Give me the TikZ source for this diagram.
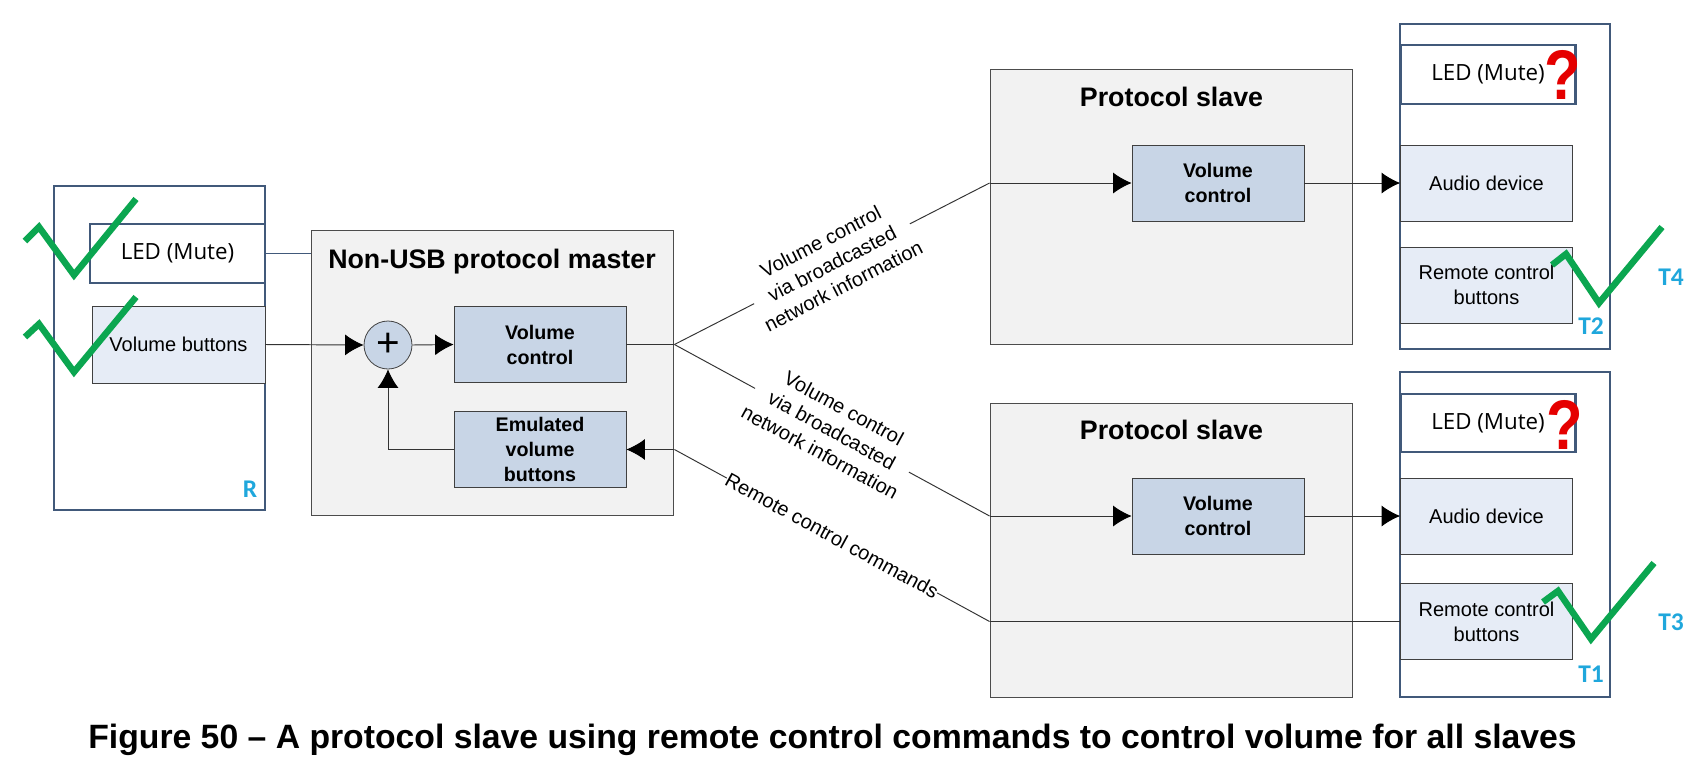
\documentclass[tikz,border=0pt]{standalone}
\usepackage{fontspec}
\setmainfont{Liberation Sans}
\newfontfamily\tagfont{Carlito}
\newfontfamily\ledfont{Open Sans}
\usepackage{xcolor}
\usepackage{tikz}
\usetikzlibrary{arrows.meta, positioning}
\definecolor{framecol}{HTML}{41597A}
\definecolor{unitcol}{HTML}{E6ECF6}
\definecolor{blockcol}{HTML}{C8D5E6}
\definecolor{panelcol}{HTML}{F2F2F2}
\definecolor{tagcol}{HTML}{1FA7DC}
\definecolor{checkcol}{HTML}{0BA650}

\begin{document}
\begin{tikzpicture}[
  x=0.02cm,
  y=-0.02cm,
  font=\fontsize{11.4}{14.2}\selectfont,
  devicebox/.style={
    draw=framecol,
    fill=white,
    line width=1.3pt,
    minimum width=4.2cm,
    minimum height=6.5cm
  },
  ledbox/.style={
    draw=framecol,
    fill=white,
    line width=1.3pt,
    minimum width=3.5cm,
    minimum height=1.17cm,
    text height=0.93em,
    font=\ledfont\fontsize{12.7}{14}\selectfont
  },
  unitbox/.style={
    draw=black!75,
    fill=unitcol,
    line width=0.45pt,
    align=center,
    minimum width=3.44cm,
    minimum height=1.52cm
  },
  panelbox/.style={
    draw=black!70,
    fill=panelcol,
    line width=0.55pt,
    minimum width=7.26cm
  },
  blockbox/.style={
    draw=black!75,
    fill=blockcol,
    line width=0.45pt,
    align=center,
    minimum width=3.44cm,
    minimum height=1.52cm,
    font=\bfseries\fontsize{11.2}{14.2}\selectfont
  },
  titletext/.style={font=\bfseries\fontsize{15.25}{18}\selectfont},
  tagtext/.style={font=\tagfont\bfseries\fontsize{14.5}{16}\selectfont, text=tagcol},
  netlabel/.style={
    sloped,
    midway,
    fill=white,
    align=center,
    inner sep=0pt,
    font=\fontsize{11.4}{14.2}\selectfont
  },
  wire/.style={draw=black!80, line width=0.55pt},
  arrow/.style={
    draw=black!80,
    -{Latex[length=0.37cm,width=0.42cm,black]},
    line width=0.55pt
  },
  checkmark/.style={draw=checkcol, line width=3.7pt, line join=miter},
  querymark/.style={
    text=red!90!black,
    inner sep=0pt,
    font=\bfseries\fontsize{40}{40}\selectfont,
    xscale=0.85,
    transform shape
  }
]
\useasboundingbox (0,0) rectangle (1708,782);

% Device on the left
\node[devicebox, minimum width=4.22cm, minimum height=6.48cm] (devr) at (159.5,348) {};
\node[ledbox] (ledr) at (177.5,253.5) {LED (Mute)};
\node[unitbox, minimum width=3.46cm, minimum height=1.54cm] (buttons) at (178.5,344.5) {Volume buttons};
\node[tagtext] (tagr) at (250,489) {R};

% Master
\node[panelbox, minimum width=7.25cm, minimum height=5.72cm] (master) at (492.75,373) {};
\node[titletext] (mastertitle) at (492,262) {Non-USB protocol master};
\node[circle, draw=black!75, fill=blockcol, line width=0.45pt, minimum size=0.96cm, inner sep=0pt,
  font=\fontsize{23}{23}\selectfont] (sum) at (388,345) {+};
\node[blockbox] (mastervol) at (540,344.5) {Volume\\control};
\node[blockbox, minimum height=1.5cm] (emulated) at (540,449.5) {Emulated\\volume\\buttons};

% Upper slave
\node[panelbox, minimum height=5.52cm] (slavetop) at (1171.5,207) {};
\node[titletext] (slavetoptitle) at (1171.5,97) {Protocol slave};
\node[blockbox] (voltop) at (1218,183) {Volume\\control};

% Lower slave
\node[panelbox, minimum height=5.88cm] (slavelow) at (1171.5,550) {};
\node[titletext] (slavelowtitle) at (1171.5,430) {Protocol slave};
\node[blockbox] (vollow) at (1218,516) {Volume\\control};

% Devices on the right
\node[devicebox] (devtop) at (1505,186.5) {};
\node[ledbox] (ledtop) at (1488,74.5) {LED (Mute)};
\node[unitbox] (audiotop) at (1486.5,183) {Audio device};
\node[unitbox] (remotetop) at (1486.5,285) {Remote control\\buttons};
\node[devicebox] (devlow) at (1505,534.5) {};
\node[ledbox] (ledlow) at (1488,423) {LED (Mute)};
\node[unitbox] (audiolow) at (1486.5,516) {Audio device};
\node[unitbox] (remotelow) at (1486.5,621.5) {Remote control\\buttons};

% Tags
\node[tagtext] (tagtwo) at (1591,326) {T2};
\node[tagtext] (tagfour) at (1671,277) {T4};
\node[tagtext] (tagone) at (1591,674) {T1};
\node[tagtext] (tagthree) at (1671,622) {T3};

% Junctions on the panel edges
\coordinate (split) at (mastervol.east -| master.east);
\coordinate (cmdout) at (emulated.east -| master.east);
\coordinate (topin) at (voltop.west -| slavetop.west);
\coordinate (lowin) at (vollow.west -| slavelow.west);
\coordinate (cmdin) at (remotelow.west -| slavelow.west);

% Connectors
\draw[draw=framecol, line width=0.5pt] (ledr.east) -- (ledr.east -| master.west);
\draw[arrow] (buttons.east) -- (sum.west);
\draw[arrow] (sum.east) -- (mastervol.west);
\draw[wire] (mastervol.east) -- (split);
\draw[arrow] (emulated.west) -| (sum.south);
\draw[arrow] (cmdout) -- (emulated.east);
\draw[wire] (split) -- node[netlabel] {Volume control\\via broadcasted\\network information} (topin);
\draw[wire] (split) -- node[netlabel] {Volume control\\via broadcasted\\network information} (lowin);
\draw[wire] (cmdout) -- node[netlabel] {Remote control commands} (cmdin);
\draw[wire] (cmdin) -- (remotelow.west);
\draw[arrow] (topin) -- (voltop.west);
\draw[arrow] (lowin) -- (vollow.west);
\draw[arrow] (voltop.east) -- (audiotop.west);
\draw[arrow] (vollow.east) -- (audiolow.west);

% Marks
\draw[checkmark] (25,241) -- (39,227) -- (74,275) -- (136,199);
\draw[checkmark] (25,337) -- (39,324) -- (74,372) -- (136,297);
\draw[checkmark] (1552,265) -- (1566,254) -- (1599,303) -- (1662,227);
\draw[checkmark] (1543,602) -- (1558,591) -- (1591,639) -- (1654,563);
\node[querymark] (querytop) at (1563,75) {?};
\node[querymark] (querylow) at (1565,425) {?};

% Caption
\node[font=\bfseries\fontsize{19.2}{22}\selectfont] (caption) at (832.5,740)
{Figure 50 – A protocol slave using remote control commands to control volume for all slaves};

\end{tikzpicture}
\end{document}
